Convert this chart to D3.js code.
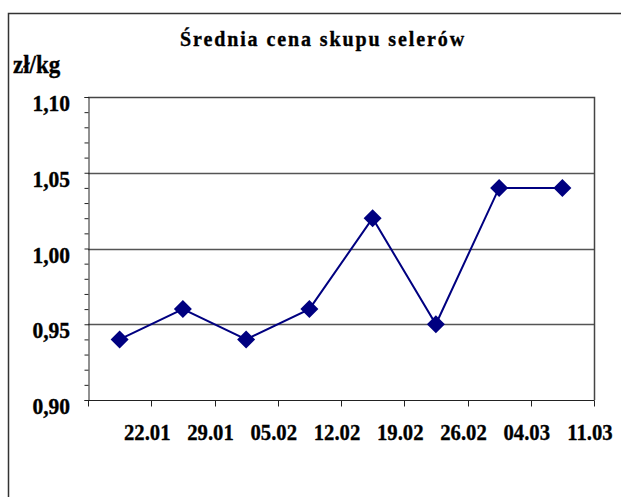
<!DOCTYPE html>
<html>
<head>
<meta charset="utf-8">
<script src="https://cdn.jsdelivr.net/npm/d3@7"></script>
<style>
  body { margin: 0; background: #fff; }
  svg { display: block; }
  text { font-family: 'Liberation Serif', 'Times New Roman', serif; font-weight: bold; fill: #000; stroke: #000; stroke-width: 0.35px; }
</style>
</head>
<body>
<div id="chart"></div>
<script>
// dane
var dates = ['22.01', '29.01', '05.02', '12.02', '19.02', '26.02', '04.03', '11.03'];
var prices = [0.94, 0.96, 0.94, 0.96, 1.02, 0.95, 1.04, 1.04];
var yTicks = [0.90, 0.95, 1.00, 1.05, 1.10];
var title = 'Średnia cena skupu selerów';
var unit = 'zł/kg';

var _width = 621, _height = 497;
var plot = { left: 88, right: 594, top: 97, bottom: 400 };
var navy = '#000080';

var svg = d3.select('#chart').append('svg')
    .attr('width', _width)
    .attr('height', _height);

// ramka wykresu (wychodzi poza prawy i dolny brzeg)
svg.append('path')
    .attr('d', 'M8.5,' + (_height + 5) + 'V13.5H' + (_width + 5))
    .attr('fill', 'none')
    .attr('stroke', '#333')
    .attr('stroke-width', 1.5);

svg.append('text')
    .attr('transform', 'translate(323,46) scale(1,1.08)')
    .attr('text-anchor', 'middle')
    .attr('font-size', 20)
    .attr('letter-spacing', 1.9)
    .text(title);

svg.append('text')
    .attr('transform', 'translate(13,73) scale(1,1.05)')
    .attr('font-size', 23)
    .text(unit);

var x = d3.scaleBand()
    .domain(dates)
    .range([plot.left, plot.right]);

var y = d3.scaleLinear()
    .domain([0.90, 1.10])
    .range([plot.bottom, plot.top]);

// linie siatki
svg.append('g')
    .selectAll('line')
    .data(yTicks.slice(1, -1))
    .join('line')
    .attr('x1', plot.left)
    .attr('x2', plot.right)
    .attr('y1', function(d) { return Math.round(y(d)) + 0.5; })
    .attr('y2', function(d) { return Math.round(y(d)) + 0.5; })
    .attr('stroke', '#555')
    .attr('stroke-width', 1.3);

// ramka obszaru
svg.append('path')
    .attr('d', 'M' + plot.left + ',' + (plot.top + 0.5) + 'H' + (plot.right + 0.5) + 'V' + plot.bottom)
    .attr('fill', 'none')
    .attr('stroke', '#444')
    .attr('stroke-width', 1.5);

// oś Y z drobnymi podziałkami
var yAxis = svg.append('g')
    .attr('transform', 'translate(' + (plot.left + 0.5) + ',0)')
    .call(d3.axisLeft(y).ticks(20).tickSize(4).tickFormat(''));
yAxis.selectAll('path, line').attr('stroke', '#222');

svg.append('g')
    .selectAll('text')
    .data(yTicks)
    .join('text')
    .attr('transform', function(d) { return 'translate(70,' + (y(d) + 14) + ') scale(1,1.05)'; })
    .attr('text-anchor', 'end')
    .attr('font-size', 21.5)
    .text(function(d) { return d3.format('.2f')(d).replace('.', ','); });

// oś X
var xAxis = svg.append('g')
    .attr('transform', 'translate(0,' + (plot.bottom + 0.5) + ')');
xAxis.append('line')
    .attr('x1', plot.left)
    .attr('x2', plot.right + 0.5)
    .attr('stroke', '#222');
xAxis.selectAll('line.tick')
    .data([plot.left].concat(dates.map(function(d) { return x(d) + x.bandwidth(); })))
    .join('line')
    .attr('class', 'tick')
    .attr('x1', function(d) { return Math.round(d) + 0.5; })
    .attr('x2', function(d) { return Math.round(d) + 0.5; })
    .attr('y1', 0)
    .attr('y2', 6)
    .attr('stroke', '#222');

svg.append('g')
    .selectAll('text')
    .data(dates)
    .join('text')
    .attr('transform', function(d) {
        return 'translate(' + (x(d) + x.bandwidth() - 4) + ',440) scale(0.9,1)';
    })
    .attr('text-anchor', 'middle')
    .attr('font-size', 23)
    .text(function(d) { return d; });

// linia i znaczniki
var line = d3.line()
    .x(function(d, i) { return x(dates[i]) + x.bandwidth() / 2; })
    .y(function(d) { return y(d); });

svg.append('path')
    .datum(prices)
    .attr('d', line)
    .attr('fill', 'none')
    .attr('stroke', navy)
    .attr('stroke-width', 2);

svg.append('g')
    .selectAll('path')
    .data(prices)
    .join('path')
    .attr('transform', function(d, i) {
        return 'translate(' + (x(dates[i]) + x.bandwidth() / 2) + ',' + y(d) + ')';
    })
    .attr('d', 'M0,-9L9,0L0,9L-9,0Z')
    .attr('fill', navy);
</script>
</body>
</html>
